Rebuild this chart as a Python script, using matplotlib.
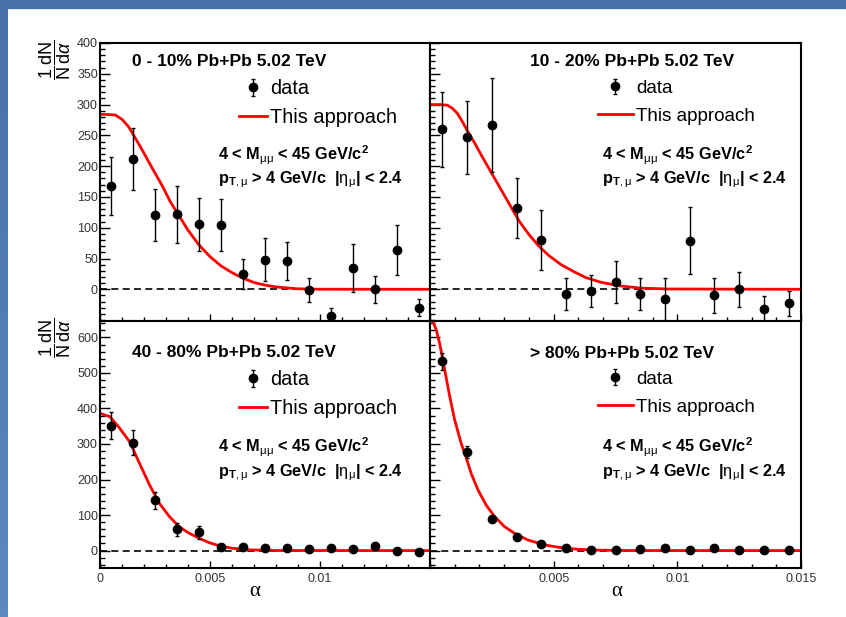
import matplotlib
matplotlib.use('Agg')
import matplotlib.pyplot as plt
import numpy as np
from matplotlib.ticker import MultipleLocator, FixedLocator, FuncFormatter
from matplotlib.patches import Rectangle
from matplotlib.colors import LinearSegmentedColormap
from matplotlib.container import ErrorbarContainer
from matplotlib.legend_handler import HandlerErrorbar

plt.rcParams['font.family'] = ['Liberation Sans', 'DejaVu Sans']
plt.rcParams['mathtext.fontset'] = 'custom'
plt.rcParams['mathtext.rm'] = 'Liberation Sans'
plt.rcParams['mathtext.it'] = 'Liberation Sans:italic'
plt.rcParams['mathtext.bf'] = 'Liberation Sans:bold'
plt.rcParams['mathtext.sf'] = 'Liberation Sans'

# ---------------- data ----------------
alpha = [0.0005, 0.0015, 0.0025, 0.0035, 0.0045, 0.0055, 0.0065, 0.0075,
         0.0085, 0.0095, 0.0105, 0.0115, 0.0125, 0.0135, 0.0145]

y_0_10 = [168, 212, 121, 122, 106, 105, 25, 48, 46, -1, -43, 34, 0, 64, -30]
e_0_10 = [47, 50, 42, 46, 43, 42, 25, 35, 31, 20, 12, 39, 22, 40, 14]

y_10_20 = [260, 247, 267, 132, 80, -8, -2, 12, -7, -16, 79, -10, 0, -32, -23]
e_10_20 = [61, 59, 76, 49, 48, 26, 26, 34, 26, 34, 54, 28, 28, 21, 20]

y_40_80 = [352, 304, 141, 60, 51, 9, 11, 6, 6, 4, 8, 4, 14, -1, -3]
e_40_80 = [38, 35, 24, 18, 17, 8, 7, 5, 5, 4, 5, 4, 5, 4, 4]

y_80 = [533, 277, 89, 37, 19, 8, 2, 3, 4, 6, 3, 6, 2, 3, 1]
e_80 = [24, 17, 5, 4, 3, 3, 2, 2, 5, 3, 2, 3, 2, 2, 2]

# model curves ("This approach")
cx_0_10 = [0, 0.0003, 0.0007, 0.0010, 0.0013, 0.0016, 0.0020, 0.0024, 0.0028,
           0.0032, 0.0036, 0.0040, 0.0045, 0.0050, 0.0055, 0.0060, 0.0065,
           0.0070, 0.0075, 0.0080, 0.0090, 0.0100, 0.0150]
cy_0_10 = [284, 284, 283, 276, 264, 246, 221, 195, 170, 142, 119, 96, 72, 53,
           38, 27, 18, 11, 6.8, 3.8, 0.8, 0.1, 0]

cx_10_20 = [0, 0.0004, 0.0007, 0.0009, 0.0011, 0.0013, 0.0015, 0.0018, 0.0021,
            0.0024, 0.0027, 0.0030, 0.0033, 0.0036, 0.0040, 0.0044, 0.0048,
            0.0053, 0.0058, 0.0063, 0.0069, 0.0077, 0.0085, 0.0096, 0.0150]
cy_10_20 = [300, 300, 299, 294, 286, 273, 258, 238, 216, 195, 174, 153, 132,
            111, 89, 70, 55, 40, 29, 19, 11.5, 5.4, 2, 0.5, 0]

cx_40_80 = [0, 0.00045, 0.0009, 0.00135, 0.0018, 0.00225, 0.0027, 0.00315,
            0.0036, 0.00405, 0.0045, 0.00495, 0.0054, 0.0060, 0.0068, 0.0080,
            0.0150]
cy_40_80 = [386, 377, 344, 306, 245, 185, 133, 96, 67, 49, 35, 22.5, 14, 6.6,
            2, 0.3, 0]

cx_80 = [0, 0.00012, 0.00026, 0.00039, 0.00052, 0.00066, 0.0008, 0.0010,
         0.00126, 0.00147, 0.00167, 0.00194, 0.00227, 0.00261, 0.00301,
         0.00341, 0.00395, 0.00462, 0.00529, 0.00597, 0.0069, 0.0080, 0.0150]
cy_80 = [665, 644, 620, 583, 536, 485, 433, 367, 302, 260, 216, 171, 128, 96,
         67.5, 49, 30, 16, 8.4, 3.7, 1, 0.2, 0]

titles = ["0 - 10% Pb+Pb 5.02 TeV", "10 - 20% Pb+Pb 5.02 TeV",
          "40 - 80% Pb+Pb 5.02 TeV", "> 80% Pb+Pb 5.02 TeV"]
cut1 = r"4 < M$_{\mathrm{\mu\mu}}$ < 45 GeV/c$^{\mathbf{2}}$"
cut2 = r"p$_{\mathbf{T},\mathrm{\mu}}$ > 4 GeV/c  |$\mathrm{\eta}_{\mathrm{\mu}}$| < 2.4"
ylabel = r"$\dfrac{\mathrm{1}}{\mathrm{N}}\dfrac{\mathrm{dN}}{\mathrm{d}\alpha}$"
xlabel = "\u03b1"

# ---------------- layout ----------------
W, H = 846, 617
fig = plt.figure(figsize=(W / 100, H / 100), dpi=100)

def fx(x):
    return x / W

def fy(y):
    return 1 - y / H

def add_ax(x0, y0, x1, y1):
    return fig.add_axes([fx(x0), fy(y1), (x1 - x0) / W, (y1 - y0) / H])

# blue frame strips (slide background)
fig.patches.append(Rectangle((0, fy(8)), 1, 8 / H, transform=fig.transFigure,
                             color='#4771a9', zorder=0))
bar_ax = fig.add_axes([0, 0, 8 / W, fy(8)])
bar_ax.axis('off')
bar_cmap = LinearSegmentedColormap.from_list('bar', ['#4771a9', '#5b89c2'])
bar_ax.imshow(np.linspace(0, 1, 64).reshape(-1, 1), cmap=bar_cmap,
              aspect='auto', extent=(0, 1, 0, 1))

YMID = 320.7
panels = [
    dict(box=(100, 43, 430, YMID), y=y_0_10, e=e_0_10, cx=cx_0_10, cy=cy_0_10,
         ylim=(-51, 400), major=list(range(0, 401, 50)), minor=10, left=True,
         bottom=False, title=titles[0], tx=132, tby=66, lx=239, lrow=87,
         fs_leg=14.4, hl=1.4, ls=0.46, ax_x=218, cy1=160, cy2=183, xl_hide=None),
    dict(box=(430, 43, 801, YMID), y=y_10_20, e=e_10_20, cx=cx_10_20, cy=cy_10_20,
         ylim=(-51, 400), major=list(range(0, 401, 50)), minor=10, left=False,
         bottom=False, title=titles[1], tx=530, tby=66, lx=598, lrow=87,
         fs_leg=13.6, hl=1.85, ls=0.55, ax_x=602, cy1=160, cy2=183, xl_hide=None),
    dict(box=(100, YMID, 430, 568), y=y_40_80, e=e_40_80, cx=cx_40_80, cy=cy_40_80,
         ylim=(-49, 647), major=list(range(0, 601, 100)), minor=20, left=True,
         bottom=True, title=titles[2], tx=132, tby=357, lx=239, lrow=378,
         fs_leg=14.4, hl=1.4, ls=0.46, ax_x=218, cy1=452, cy2=476, xl_hide=0.015),
    dict(box=(430, YMID, 801, 568), y=y_80, e=e_80, cx=cx_80, cy=cy_80,
         ylim=(-49, 647), major=list(range(0, 601, 100)), minor=20, left=False,
         bottom=True, title=titles[3], tx=530, tby=358, lx=598, lrow=378,
         fs_leg=13.6, hl=1.85, ls=0.55, ax_x=602, cy1=452, cy2=476, xl_hide=0.0),
]

for p in panels:
    x0, y0, x1, y1 = p['box']
    ax = add_ax(x0, y0, x1, y1)
    ax.set_xlim(0, 0.015)
    ax.set_ylim(*p['ylim'])
    ax.axhline(0, color='black', lw=1.2, ls=(0, (4.2, 2.6)), zorder=1)
    line, = ax.plot(p['cx'], p['cy'], color='#ff0000', lw=2.0, zorder=2,
                    solid_joinstyle='round')
    eb = ax.errorbar(alpha, p['y'], yerr=p['e'], fmt='o', color='black',
                     markersize=6, elinewidth=1.0, capsize=1.2, capthick=1.0,
                     zorder=3)

    for s in ax.spines.values():
        s.set_linewidth(1.5)
    ax.xaxis.set_major_locator(FixedLocator([0, 0.005, 0.01, 0.015]))
    ax.xaxis.set_minor_locator(MultipleLocator(0.001))
    ax.yaxis.set_major_locator(FixedLocator(p['major']))
    ax.yaxis.set_minor_locator(MultipleLocator(p['minor']))
    ax.tick_params(which='both', direction='in', top=False, right=False,
                   left=True, bottom=True, width=1.0, colors='black',
                   labelcolor='#333333', labelsize=9)
    ax.tick_params(axis='y', which='major', length=7.2, pad=1.5)
    ax.tick_params(axis='y', which='minor', length=3.6)
    ax.tick_params(axis='x', which='major', length=5, pad=3.5)
    ax.tick_params(axis='x', which='minor', length=2.9)

    hide = p['xl_hide']
    ax.xaxis.set_major_formatter(FuncFormatter(
        lambda v, pos, hide=hide: '' if (hide is not None and abs(v - hide) < 1e-9) else '%g' % v))
    if not p['bottom']:
        ax.tick_params(axis='x', labelbottom=False)
    else:
        ax.set_xlabel(xlabel, fontsize=15, family='Liberation Serif')
        xc = 255 if p['left'] else 617
        ax.xaxis.set_label_coords((xc - x0) / (x1 - x0), -(591 - y1) / (y1 - y0))
        ax.xaxis.label.set_va('center')
    if not p['left']:
        ax.tick_params(axis='y', labelleft=False)
    else:
        ax.set_ylabel(ylabel, fontsize=13, rotation=90, ha='right', va='center')
        ax.yaxis.set_label_coords((55 - x0) / (x1 - x0), (y1 - (y0 - 3)) / (y1 - y0))

    # title and cut annotations
    fig.text(fx(p['tx']), fy(p['tby']), p['title'], fontsize=12.5,
             fontweight='bold', ha='left', va='baseline')
    fig.text(fx(p['ax_x']), fy(p['cy1']), cut1, fontsize=11.8, fontweight='bold',
             ha='left', va='baseline')
    fig.text(fx(p['ax_x']), fy(p['cy2']), cut2, fontsize=11.7, fontweight='bold',
             ha='left', va='baseline')

    fs_px = p['fs_leg'] / 72 * 100
    ax.legend([eb, line], ['data', 'This approach'], loc='upper left',
              bbox_to_anchor=(fx(p['lx']), fy(p['lrow'] - 0.38 * fs_px)),
              bbox_transform=fig.transFigure, frameon=False,
              fontsize=p['fs_leg'], handlelength=p['hl'],
              handletextpad=0.15, borderpad=0, borderaxespad=0,
              labelspacing=p['ls'],
              handler_map={ErrorbarContainer: HandlerErrorbar(xerr_size=0.42)})

fig.savefig('out.png', dpi=100)
